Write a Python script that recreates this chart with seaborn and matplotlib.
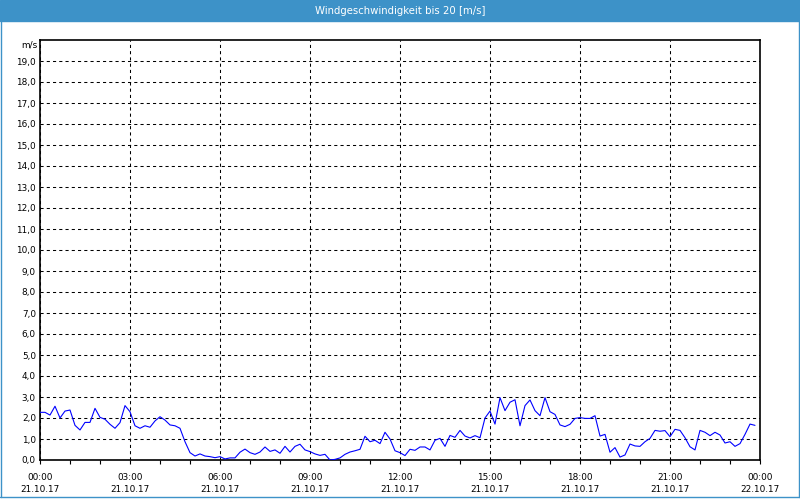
import matplotlib
matplotlib.use("Agg")
import matplotlib.pyplot as plt
from matplotlib.patches import Rectangle
from matplotlib.lines import Line2D
from matplotlib.ticker import MultipleLocator
import numpy as np
import pandas as pd
import seaborn as sns

# ---- data: wind speed every 10 minutes, 21.10.17 ----
wind_speed = [
    2.27, 2.27, 2.14, 2.56, 2.00, 2.33, 2.38, 1.65, 1.43, 1.79, 1.79, 2.46,
    2.03, 1.94, 1.70, 1.51, 1.78, 2.59, 2.30, 1.63, 1.51, 1.63, 1.56, 1.86,
    2.06, 1.90, 1.67, 1.63, 1.51, 0.87, 0.35, 0.19, 0.29, 0.19, 0.16, 0.11,
    0.16, 0.05, 0.10, 0.10, 0.37, 0.52, 0.35, 0.27, 0.38, 0.62, 0.41, 0.48,
    0.32, 0.65, 0.38, 0.65, 0.75, 0.48, 0.40, 0.29, 0.22, 0.27, 0.00, 0.03,
    0.10, 0.27, 0.38, 0.44, 0.51, 1.13, 0.87, 0.94, 0.78, 1.32, 1.00, 0.44,
    0.35, 0.21, 0.51, 0.46, 0.62, 0.62, 0.48, 0.94, 1.03, 0.65, 1.17, 1.08,
    1.41, 1.14, 1.05, 1.16, 1.06, 2.00, 2.33, 1.71, 2.97, 2.35, 2.75, 2.87,
    1.63, 2.59, 2.86, 2.35, 2.11, 2.97, 2.30, 2.17, 1.67, 1.59, 1.70, 1.98,
    2.02, 1.98, 1.98, 2.11, 1.14, 1.22, 0.37, 0.59, 0.14, 0.24, 0.76, 0.67,
    0.65, 0.87, 1.03, 1.41, 1.37, 1.40, 1.11, 1.46, 1.41, 1.06, 0.63, 0.48,
    1.41, 1.32, 1.16, 1.32, 1.19, 0.81, 0.87, 0.65, 0.78, 1.22, 1.71, 1.65,
]
minutes = list(range(0, 10 * len(wind_speed), 10))

y_ticks = list(range(0, 20))
y_tick_labels = [f"{v},0" for v in y_ticks]
x_ticks_hours = [0, 3, 6, 9, 12, 15, 18, 21, 24]
x_tick_labels = ["00:00\n21.10.17", "03:00\n21.10.17", "06:00\n21.10.17",
                 "09:00\n21.10.17", "12:00\n21.10.17", "15:00\n21.10.17",
                 "18:00\n21.10.17", "21:00\n21.10.17", "00:00\n22.10.17"]
title = "Windgeschwindigkeit bis 20 [m/s]"
unit = "m/s"

df = pd.DataFrame({"hours": np.array(minutes) / 60.0, "speed": wind_speed})

sns.set_theme(style="white")
plt.rcParams["font.family"] = ["DejaVu Sans"]

fig = plt.figure(figsize=(8, 5), dpi=100)
fig.patch.set_facecolor("white")

blue = "#3d92c8"
# title bar
fig.patches.append(Rectangle((0, 1 - 21 / 500), 1, 21 / 500,
                             transform=fig.transFigure, color=blue, zorder=0))
fig.text(0.5, 1 - 10.5 / 500, title, color="white", ha="center", va="center",
         fontsize=7.3)
# thin blue border
fig.lines.append(Line2D([0.6 / 800, 0.6 / 800], [3 / 500, 1], transform=fig.transFigure,
                        color=blue, lw=1.0))
fig.lines.append(Line2D([799 / 800, 799 / 800], [3 / 500, 1], transform=fig.transFigure,
                        color=blue, lw=1.0))
fig.lines.append(Line2D([0, 1], [3 / 500, 3 / 500], transform=fig.transFigure,
                        color=blue, lw=1.0))

ax = fig.add_axes([40 / 800, 40 / 500, 720 / 800, 420 / 500])
ax.set_facecolor("white")
sns.lineplot(data=df, x="hours", y="speed", ax=ax, color="#0000ff", lw=0.8,
             zorder=3)

ax.set_xlim(0, 24)
ax.set_ylim(0, 20)
ax.set_yticks(y_ticks)
ax.set_yticklabels(y_tick_labels)
ax.set_xticks(x_ticks_hours)
ax.set_xticklabels(x_tick_labels, linespacing=1.45)
ax.xaxis.set_minor_locator(MultipleLocator(1))
ax.set_xlabel("")
ax.set_ylabel("")

ax.tick_params(axis="y", length=0, pad=3, labelsize=6.4, colors="black")
ax.tick_params(axis="x", which="both", direction="out", length=3, width=0.8,
               color="black", pad=6, labelsize=6.4, labelcolor="black",
               bottom=True)

ax.grid(True, axis="both", which="major", color="black", lw=0.75,
        linestyle=(0, (3, 3)))
for s in ax.spines.values():
    s.set_color("black")
    s.set_linewidth(1.2)

ax.text(-2 / 720, 1 - 5 / 420, unit, transform=ax.transAxes, ha="right",
        va="center", fontsize=6.4, color="black")

fig.savefig("out.png", dpi=100, facecolor="white")
